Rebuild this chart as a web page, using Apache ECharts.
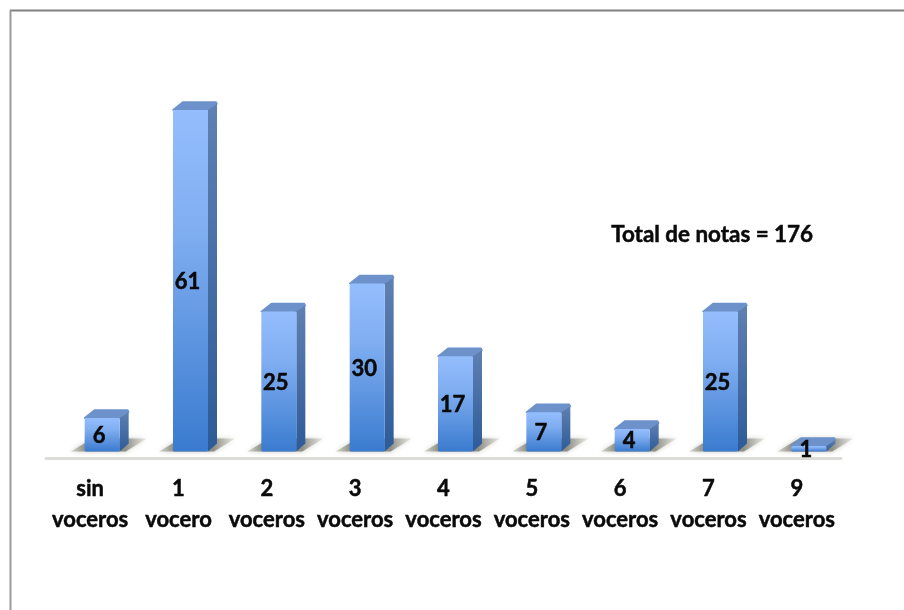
<!DOCTYPE html>
<html>
<head>
<meta charset="utf-8">
<style>
  html, body { margin: 0; padding: 0; background: #fff; }
  #chart { width: 904px; height: 610px; filter: blur(0.4px); }
</style>
<script src="https://cdn.jsdelivr.net/npm/echarts@6/dist/echarts.min.js"></script>
</head>
<body>
<div id="chart"></div>
<script>
var categories = ['sin\nvoceros', '1\nvocero', '2\nvoceros', '3\nvoceros', '4\nvoceros', '5\nvoceros', '6\nvoceros', '7\nvoceros', '9\nvoceros']
var values = [6, 61, 25, 30, 17, 7, 4, 25, 1]
var totalText = 'Total de notas = 176'

var myChart = echarts.init(document.getElementById('chart'))

var fontName = 'Lato, Carlito, sans-serif'
var textColor = '#0a0a0a'
var barW = 35 // ancho de la cara frontal
var depthX = 9 // profundidad 3D
var depthY = 8
var baseGap = 6.5 // la base de la barra queda encima del eje
var barShift = 12 // la barra va corrida a la derecha de la etiqueta

function vGrad(top, bottom) {
  return new echarts.graphic.LinearGradient(0, 0, 0, 1, [
    { offset: 0, color: top },
    { offset: 1, color: bottom },
  ])
}

function renderBar(params, api) {
  var i = api.value(0)
  var zero = api.coord([i, 0])
  var top = api.coord([i, api.value(1)])
  var x0 = zero[0] + barShift - barW / 2
  var x1 = x0 + barW
  var yBase = zero[1] - baseGap
  var yTop = top[1] - baseGap

  return {
    type: 'group',
    children: [
      // sombra en el piso
      {
        type: 'polygon',
        shape: {
          points: [
            [x0 - 14, yBase],
            [x1 + 6, yBase],
            [x1 + 27, yBase - 13],
            [x0 + 8, yBase - 13],
          ],
        },
        style: {
          fill: new echarts.graphic.LinearGradient(0, 0, 1, 0, [
            { offset: 0, color: 'rgba(190,190,182,0.6)' },
            { offset: 0.22, color: '#868579' },
            { offset: 0.72, color: '#908f85' },
            { offset: 1, color: 'rgba(205,205,198,0.4)' },
          ]),
          shadowBlur: 5,
          shadowColor: 'rgba(180,180,175,0.8)',
        },
        z2: 1,
      },
      // cara superior
      {
        type: 'polygon',
        shape: {
          points: [
            [x0, yTop],
            [x0 + depthX + 1, yTop - depthY],
            [x1 + depthX - 1, yTop - depthY],
            [x1 + depthX, yTop - depthY + 2],
            [x1, yTop],
          ],
        },
        style: { fill: '#6d92cb', stroke: '#6d92cb', lineWidth: 1.5, lineJoin: 'round' },
        z2: 2,
      },
      // cara lateral
      {
        type: 'polygon',
        shape: {
          points: [
            [x1, yTop],
            [x1 + depthX, yTop - depthY + 2],
            [x1 + depthX, yBase - depthY],
            [x1, yBase],
          ],
        },
        style: { fill: vGrad('#5f80b2', '#2d5b98') },
        z2: 2,
      },
      // cara frontal
      {
        type: 'rect',
        shape: { x: x0, y: yTop, width: barW, height: yBase - yTop, r: 1.5 },
        style: {
          fill: new echarts.graphic.LinearGradient(0, 0, 0, 1, [
            { offset: 0, color: '#94bdfd' },
            { offset: 0.35, color: '#80aef1' },
            { offset: 1, color: '#3a7bcf' },
          ]),
        },
        z2: 3,
      },
      // valor
      {
        type: 'text',
        style: {
          x: x0 + barW / 2 - 3,
          y: (yTop + yBase) / 2 + 1,
          text: String(api.value(1)),
          fill: textColor,
          stroke: textColor,
          lineWidth: 0.5,
          font: 'bold 22px ' + fontName,
          align: 'center',
          verticalAlign: 'middle',
        },
        z2: 5,
      },
    ],
  }
}

var option = {
  backgroundColor: '#fff',
  animation: false,
  grid: { left: 46, top: 66, width: 795, height: 392 },
  graphic: [
    // marco de la imagen: solo arriba y a la izquierda
    { type: 'line', shape: { x1: 10, y1: 10.5, x2: 904, y2: 10.5 }, style: { stroke: '#808080', lineWidth: 2 } },
    { type: 'line', shape: { x1: 10.5, y1: 10, x2: 10.5, y2: 610 }, style: { stroke: '#9a9a9a', lineWidth: 2 } },
    {
      type: 'text',
      left: 611,
      top: 224,
      style: {
        text: totalText,
        fill: textColor,
        stroke: textColor,
        lineWidth: 0.5,
        font: 'bold 22.4px ' + fontName,
      },
    },
  ],
  xAxis: {
    type: 'category',
    data: categories,
    axisLine: { lineStyle: { color: '#dcdcd8', width: 3 } },
    axisTick: { show: false },
    axisLabel: {
      interval: 0,
      margin: 15,
      color: textColor,
      textBorderColor: textColor,
      textBorderWidth: 0.5,
      fontFamily: fontName,
      fontWeight: 'bold',
      fontSize: 22,
      lineHeight: 31,
    },
  },
  yAxis: { type: 'value', min: 0, max: 70, show: false },
  series: [
    {
      type: 'custom',
      renderItem: renderBar,
      encode: { x: 0, y: 1 },
      clip: false,
      data: values.map(function (v, i) {
        return [i, v]
      }),
    },
  ],
}

myChart.setOption(option)
</script>
</body>
</html>
